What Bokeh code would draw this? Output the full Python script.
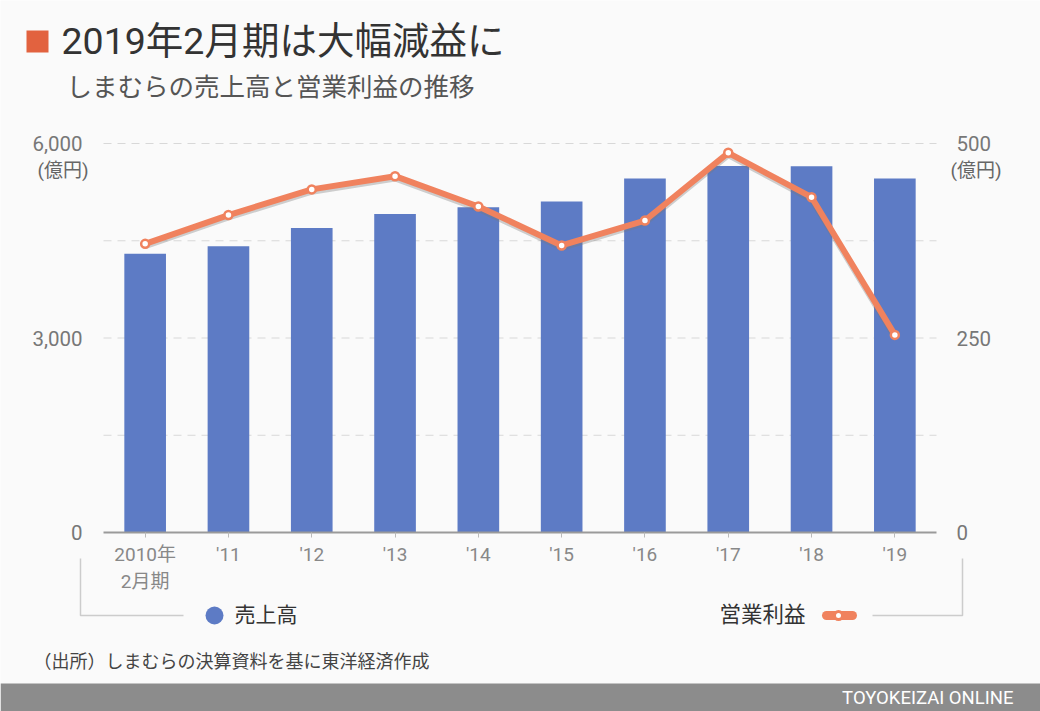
from bokeh.plotting import figure
from bokeh.models import (Range1d, LinearAxis, FixedTicker, NumeralTickFormatter,
                          ColumnDataSource)
from bokeh.core.properties import value
from bokeh.embed import file_html
from bokeh.resources import INLINE

# ---- data ----
years = ["2010年\n2月期", "'11", "'12", "'13", "'14", "'15", "'16", "'17", "'18", "'19"]
sales = [4301, 4414, 4696, 4914, 5018, 5107, 5459, 5654, 5651, 5460]      # 売上高 (億円)
op_profit = [371, 408, 441, 458, 419, 369, 401, 488, 431, 254]            # 営業利益 (億円)
sales_ticks = [0, 3000, 6000]
op_ticks = [0, 250, 500]
grid_ticks = [1500, 3000, 4500, 6000]
title_text = "2019年2月期は大幅減益に"
subtitle_text = "しまむらの売上高と営業利益の推移"
unit_text = "(億円)"
legend_sales = "売上高"
legend_op = "営業利益"
source_text = "（出所）しまむらの決算資料を基に東洋経済作成"
brand_text = "TOYOKEIZAI ONLINE"

# ---- style / layout ----
FONT = "Roboto, 'Noto Sans CJK JP', sans-serif"
BAR = "#5D7BC5"
ORANGE = "#F0825E"
BG = "#fafafa"
W, H = 1040, 711
PL, PR, PT, PB = 103, 936, 143, 532          # plot area in page px
n = len(years)
cat_w = (PR - PL) / n
x_range = Range1d(-PL / cat_w, n + (W - PR) / cat_w)
s_max, o_max = sales_ticks[-1], op_ticks[-1]
s_per_px = s_max / (PB - PT)
o_per_px = o_max / (PB - PT)
y_range = Range1d(-(H - PB) * s_per_px, s_max + PT * s_per_px)

p = figure(width=W, height=H, x_range=x_range, y_range=y_range,
           output_backend="svg", toolbar_location=None, min_border=0,
           background_fill_color=BG, border_fill_color=BG, outline_line_color=None)
p.extra_y_ranges = {"op": Range1d(-(H - PB) * o_per_px, o_max + PT * o_per_px),
                    "py": Range1d(H, 0)}
p.extra_x_ranges = {"px": Range1d(0, W)}
p.grid.visible = False

xc = [i + 0.5 for i in range(n)]

# left axis
ly = p.yaxis[0]
ly.fixed_location = 0
ly.ticker = FixedTicker(ticks=sales_ticks)
ly.formatter = NumeralTickFormatter(format="0,0")
ly.axis_line_color = None
ly.major_tick_line_color = None
ly.minor_tick_line_color = None
ly.major_label_standoff = 15
ly.major_label_text_font = FONT
ly.major_label_text_font_size = "20.5px"
ly.major_label_text_color = "#777777"

# right axis
ry = LinearAxis(y_range_name="op", fixed_location=n, ticker=FixedTicker(ticks=op_ticks),
                axis_line_color=None, major_tick_line_color=None,
                minor_tick_line_color=None, major_label_standoff=14,
                major_label_text_font=FONT, major_label_text_font_size="20.5px",
                major_label_text_color="#777777")
p.add_layout(ry, "right")

# bottom axis
bx = p.xaxis[0]
bx.fixed_location = 0
bx.bounds = (0, n)
bx.ticker = FixedTicker(ticks=xc)
bx.major_label_overrides = {x: y for x, y in zip(xc, years)}
bx.axis_line_color = "#9a9a9a"
bx.axis_line_width = 2
bx.major_tick_in = 0
bx.major_tick_out = 5
bx.minor_tick_line_color = None
bx.major_tick_line_color = "#bbbbbb"
bx.major_label_standoff = 5
bx.major_label_text_font = FONT
bx.major_label_text_font_size = "19px"
bx.major_label_text_color = "#888888"

# dashed grid lines across the plot area
p.segment(x0=[0] * len(grid_ticks), x1=[n] * len(grid_ticks), y0=grid_ticks, y1=grid_ticks,
          line_color="#d8d8d8", line_width=1, line_dash="8 6", level="underlay")

src = ColumnDataSource(dict(x=xc, sales=sales, op=op_profit,
                            op_shadow=[v - 3 for v in op_profit]))
p.vbar(x="x", top="sales", width=0.5, source=src, fill_color=BAR, line_color=None)
p.line(x="x", y="op_shadow", source=src, y_range_name="op",
       line_color="#777777", line_alpha=0.35, line_width=6, line_join="round")
p.line(x="x", y="op", source=src, y_range_name="op",
       line_color=ORANGE, line_width=6, line_join="round", line_cap="round")
p.scatter(x="x", y="op", source=src, y_range_name="op", size=8,
          fill_color="white", line_color=ORANGE, line_width=2.5)

PX = dict(x_range_name="px", y_range_name="py")


def txt(x, y, t, size, color, align="left", baseline="middle"):
    p.text(x=[x], y=[y], text=[t], text_font=value(FONT), text_font_size=f"{size}px",
           text_color=color, text_align=align, text_baseline=baseline, **PX)


# header
p.quad(left=[26], right=[48], top=[30], bottom=[52], fill_color="#E2623F",
       line_color=None, **PX)
txt(61, 40, title_text, 37.5, "#333333")
txt(66, 86, subtitle_text, 25.5, "#555555")

# unit labels
txt(88, 170, unit_text, 19, "#666666", align="right")
txt(950, 170, unit_text, 19, "#666666")

# legend
LG = "#cccccc"
p.multi_line(xs=[[80, 80, 183], [872, 962, 962]], ys=[[558, 615, 615], [615, 615, 558]],
             line_color=LG, line_width=1.5, **PX)
p.scatter(x=[214], y=[615], size=18, fill_color=BAR, line_color=None, **PX)
txt(234, 614, legend_sales, 21, "#333333")
txt(805, 614, legend_op, 21.5, "#333333", align="right")
p.segment(x0=[826], y0=[615], x1=[852], y1=[615], line_color=ORANGE, line_width=9,
          line_cap="round", **PX)
p.scatter(x=[838], y=[615], size=8, fill_color="white", line_color=ORANGE,
          line_width=3, **PX)

# footer
txt(33, 661, source_text, 18, "#444444")
p.quad(left=[0], right=[W], top=[683], bottom=[H], fill_color="#8c8c8c",
       line_color=None, **PX)
txt(1013, 697, brand_text, 18.5, "white", align="right")

open("out.html", "w").write(file_html(p, INLINE))
